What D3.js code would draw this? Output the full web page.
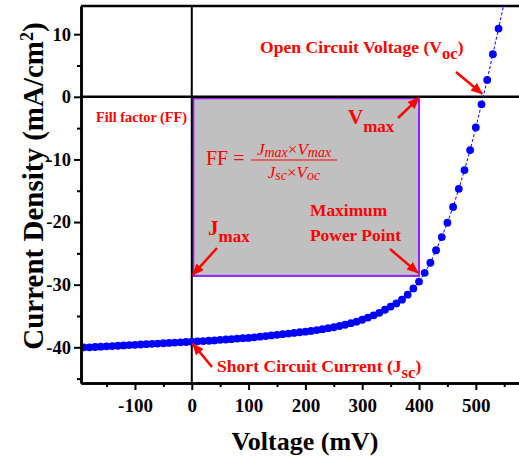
<!DOCTYPE html>
<html>
<head>
<meta charset="utf-8">
<script src="https://cdn.jsdelivr.net/npm/d3@7"></script>
<style>
  html, body { margin: 0; padding: 0; background: #fff; }
  svg { display: block; }
  text { font-family: "Liberation Serif", "Times New Roman", serif; }
</style>
</head>
<body>
<svg id="chart" width="519" height="459"></svg>
<script>
// J–V curve of the solar cell (voltage in mV, current density in mA/cm²)
const voltage = [
  -190, -180, -170, -160, -150, -140, -130, -120, -110, -100,
  -90, -80, -70, -60, -50, -40, -30, -20, -10, 0,
  10, 20, 30, 40, 50, 60, 70, 80, 90, 100,
  110, 120, 130, 140, 150, 160, 170, 180, 190, 200,
  210, 220, 230, 240, 250, 260, 270, 280, 290, 300,
  310, 320, 330, 340, 350, 360, 370, 380, 390, 400,
  410, 420, 430, 440, 450, 460, 470, 480, 490, 500,
  510, 520, 530, 540, 550
];
const currentDensity = [
  -40.0, -40.0, -39.95, -39.9, -39.85, -39.8, -39.75, -39.7, -39.65, -39.6,
  -39.55, -39.5, -39.45, -39.4, -39.35, -39.3, -39.25, -39.2, -39.15, -39.1,
  -39.05, -39.0, -38.95, -38.9, -38.8, -38.75, -38.7, -38.6, -38.55, -38.5,
  -38.4, -38.3, -38.2, -38.1, -38.0, -37.9, -37.8, -37.7, -37.6, -37.5,
  -37.4, -37.25, -37.1, -36.95, -36.8, -36.6, -36.4, -36.15, -35.9, -35.6,
  -35.25, -34.9, -34.5, -34.0, -33.5, -33.0, -32.4, -31.6, -30.6, -29.5,
  -28.1, -26.5, -24.5, -22.4, -20.1, -17.6, -14.7, -11.7, -8.5, -4.9,
  -1.2, 2.7, 6.8, 10.9, 15.0
];

// characteristic points
const Voc = 513, Jsc = -39.1, Vmax = 400, Jmax = -28.6;

// axis ticks
const xMajorTicks = [-100, 0, 100, 200, 300, 400, 500];
const xMinorTicks = [-150, -50, 50, 150, 250, 350, 450, 550];
const yMajorTicks = [10, 0, -10, -20, -30, -40];
const yMinorTicks = [5, -5, -15, -25, -35, -45];

const svg = d3.select("#chart");
const plotLeft = 81, plotRight = 519, plotTop = 6, plotBottom = 383;

const x = d3.scaleLinear().domain([-195, 576]).range([plotLeft, plotRight]);
const y = d3.scaleLinear().domain([-45.7, 14.5]).range([plotBottom, plotTop]);

const red = "#ff0000";
const blue = "#0000ff";

svg.append("rect").attr("width", 519).attr("height", 459).attr("fill", "#fff");

const defs = svg.append("defs");
defs.append("clipPath").attr("id", "plotClip")
  .append("rect").attr("x", plotLeft).attr("y", plotTop)
  .attr("width", plotRight - plotLeft).attr("height", plotBottom - plotTop);

defs.append("marker")
  .attr("id", "arrowHead")
  .attr("viewBox", "0 0 12 10")
  .attr("refX", 11).attr("refY", 5)
  .attr("markerWidth", 12).attr("markerHeight", 10)
  .attr("markerUnits", "userSpaceOnUse")
  .attr("orient", "auto")
  .append("path").attr("d", "M0,0 L12,5 L0,10 Z").attr("fill", red);

// fill-factor rectangle
svg.append("rect")
  .attr("x", x(0) + 1.5)
  .attr("y", y(0) + 1.5)
  .attr("width", x(Vmax) - x(0) - 1.5)
  .attr("height", y(Jmax) - y(0) - 1.5)
  .attr("fill", "#c0c0c0")
  .attr("stroke", "#8f22fa")
  .attr("stroke-width", 2);

// zero lines and top frame
svg.append("line")
  .attr("x1", x(0)).attr("x2", x(0)).attr("y1", plotTop).attr("y2", plotBottom)
  .attr("stroke", "#000").attr("stroke-width", 2);
svg.append("line")
  .attr("x1", plotLeft).attr("x2", plotRight).attr("y1", y(0)).attr("y2", y(0))
  .attr("stroke", "#000").attr("stroke-width", 2.5);
svg.append("line")
  .attr("x1", plotLeft).attr("x2", plotRight).attr("y1", plotTop).attr("y2", plotTop)
  .attr("stroke", "#000").attr("stroke-width", 2.5);

// data: dashed connecting line plus markers
const pts = voltage.map((v, i) => ({ v, j: currentDensity[i] }));
const dataG = svg.append("g").attr("clip-path", "url(#plotClip)");
dataG.append("path")
  .datum(pts)
  .attr("d", d3.line().x(d => x(d.v)).y(d => y(d.j)))
  .attr("fill", "none")
  .attr("stroke", blue)
  .attr("stroke-width", 1)
  .attr("stroke-dasharray", "3,2");
dataG.selectAll("circle").data(pts).join("circle")
  .attr("cx", d => x(d.v)).attr("cy", d => y(d.j))
  .attr("r", 3.9).attr("fill", blue);

// axes
function styleAxis(g) {
  g.select(".domain").attr("stroke", "#000").attr("stroke-width", 2.5);
  g.selectAll(".tick line").attr("stroke", "#000").attr("stroke-width", 2);
  g.selectAll(".tick text")
    .attr("fill", "#000")
    .style("font-family", '"Liberation Serif", "Times New Roman", serif')
    .style("font-weight", "bold");
}

const xAxis = svg.append("g").attr("transform", `translate(0,${plotBottom})`)
  .call(d3.axisBottom(x).tickValues(xMajorTicks).tickSize(7).tickSizeOuter(0)
    .tickPadding(9).tickFormat(d => String(d)));
styleAxis(xAxis);
xAxis.selectAll(".tick text").style("font-size", "19px");
const xMinor = svg.append("g").attr("transform", `translate(0,${plotBottom})`)
  .call(d3.axisBottom(x).tickValues(xMinorTicks).tickSize(4).tickSizeOuter(0).tickFormat(""));
styleAxis(xMinor);

const yAxis = svg.append("g").attr("transform", `translate(${plotLeft},0)`)
  .call(d3.axisLeft(y).tickValues(yMajorTicks).tickSize(7).tickSizeOuter(0)
    .tickPadding(3).tickFormat(d => String(d)));
styleAxis(yAxis);
yAxis.selectAll(".tick text").style("font-size", "18.5px");
const yMinor = svg.append("g").attr("transform", `translate(${plotLeft},0)`)
  .call(d3.axisLeft(y).tickValues(yMinorTicks).tickSize(4).tickSizeOuter(0).tickFormat(""));
styleAxis(yMinor);

// axis titles
svg.append("text")
  .attr("x", 305).attr("y", 450)
  .attr("text-anchor", "middle")
  .style("font-size", "26px").style("font-weight", "bold")
  .text("Voltage (mV)");

const yTitle = svg.append("text")
  .attr("transform", "translate(43,186) rotate(-90)")
  .attr("text-anchor", "middle")
  .style("font-size", "29px").style("font-weight", "bold");
yTitle.append("tspan").text("Current Density (mA/cm");
yTitle.append("tspan").attr("baseline-shift", "super").style("font-size", "18px").text("2");
yTitle.append("tspan").text(")");

// annotation helpers
function arrow(x1, y1, x2, y2) {
  svg.append("line")
    .attr("x1", x1).attr("y1", y1).attr("x2", x2).attr("y2", y2)
    .attr("stroke", red).attr("stroke-width", 2.5)
    .attr("marker-end", "url(#arrowHead)");
}
function label(px, py, size, main, sub, tail) {
  const t = svg.append("text").attr("x", px).attr("y", py)
    .attr("fill", red).style("font-size", size + "px").style("font-weight", "bold");
  t.append("tspan").text(main);
  if (sub) {
    t.append("tspan").attr("dy", 6).style("font-size", (size * 0.95) + "px").text(sub);
    if (tail) t.append("tspan").attr("dy", -6).text(tail);
  }
  return t;
}

// Voc
label(260, 53, 17.6, "Open Circuit Voltage (V", "oc", ")");
arrow(456, 72, x(Voc) - 1, y(0) - 3);

// Fill factor caption
svg.append("text").attr("x", 96).attr("y", 122)
  .attr("fill", red).style("font-size", "14.3px").style("font-weight", "bold")
  .text("Fill factor (FF)");

// Vmax
const vm = svg.append("text").attr("x", 348).attr("y", 124)
  .attr("fill", red).style("font-weight", "bold");
vm.append("tspan").style("font-size", "21px").text("V");
vm.append("tspan").attr("dy", 8).style("font-size", "17px").text("max");
arrow(398, 118, x(Vmax), y(0) + 1);

// Jmax
const jm = svg.append("text").attr("x", 208).attr("y", 235)
  .attr("fill", red).style("font-weight", "bold");
jm.append("tspan").style("font-size", "21px").text("J");
jm.append("tspan").attr("dy", 7).style("font-size", "17px").text("max");
arrow(217, 248, x(0) + 1, y(Jmax) - 1);

// maximum power point
label(310, 216, 17.4, "Maximum");
label(310, 241, 17.4, "Power Point");
arrow(390, 249, x(Vmax) - 1, y(Jmax) - 3);

// Jsc
label(217, 372, 17.6, "Short Circuit Current (J", "sc", ")");
arrow(212, 367, x(0) + 1, y(Jsc) + 2);

// fill factor formula
svg.append("text").attr("x", 206).attr("y", 165)
  .attr("fill", red).style("font-size", "20px")
  .text("FF =");
const num = svg.append("text").attr("x", 294).attr("y", 155)
  .attr("text-anchor", "middle").attr("fill", red)
  .style("font-size", "17px").style("font-style", "italic");
num.append("tspan").text("J");
num.append("tspan").attr("dy", 2).style("font-size", "14px").text("max");
num.append("tspan").attr("dy", -2).style("font-style", "normal").text("×");
num.append("tspan").text("V");
num.append("tspan").attr("dy", 2).style("font-size", "14px").text("max");
svg.append("line").attr("x1", 251).attr("x2", 337).attr("y1", 160).attr("y2", 160)
  .attr("stroke", red).attr("stroke-width", 1.2);
const den = svg.append("text").attr("x", 294).attr("y", 178)
  .attr("text-anchor", "middle").attr("fill", red)
  .style("font-size", "17px").style("font-style", "italic");
den.append("tspan").text("J");
den.append("tspan").attr("dy", 2).style("font-size", "14px").text("sc");
den.append("tspan").attr("dy", -2).style("font-style", "normal").text("×");
den.append("tspan").text("V");
den.append("tspan").attr("dy", 2).style("font-size", "14px").text("oc");
</script>
</body>
</html>
